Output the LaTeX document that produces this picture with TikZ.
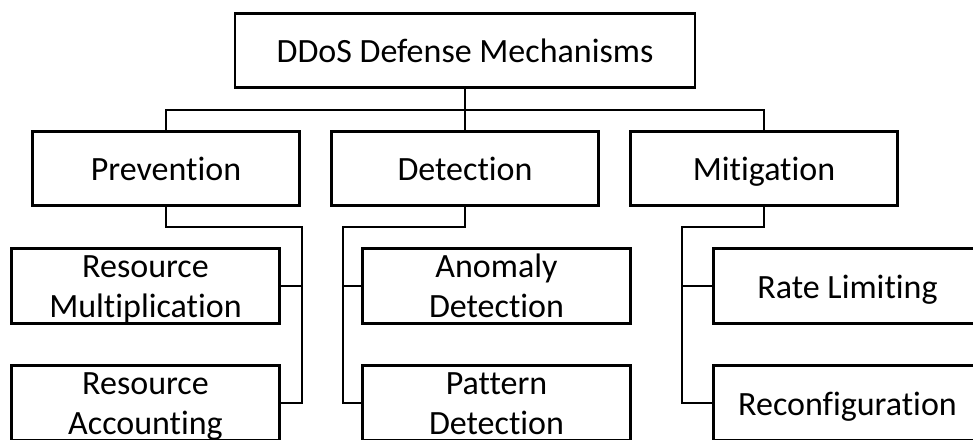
\documentclass[tikz,border=0pt]{standalone}
\usepackage{fontspec}
\setmainfont[Ligatures=NoCommon]{Carlito}
\usepackage{tikz}
\usetikzlibrary{calc}

\begin{document}
\begin{tikzpicture}[
  x=0.75pt, y=-0.75pt,
  box/.style={draw, line width=2.2pt, inner sep=0pt, align=center,
    minimum width=200.5pt, minimum height=56pt,
    font=\fontsize{25.5}{29.5}\selectfont,
    text height=23pt, text depth=5pt},
  twoline/.style={box, text height=50pt, text depth=3.5pt},
  link/.style={line width=1.5pt}
]
  \useasboundingbox (0,0) rectangle (973,439);
  \clip (0,0) rectangle (973,439);

  \node[box, minimum width=345pt] (root) at (465,50.5) {DDoS Defense Mechanisms};
  \node[box] (prev) at (166,168.5) {Prevention};
  \node[box] (det)  at (465,168.5) {Detection};
  \node[box] (mit)  at (764,168.5) {Mitigation};

  \node[twoline] (resmul) at (145.5,286) {Resource\\Multiplication};
  \node[twoline] (resacc) at (145.5,403) {Resource\\Accounting};
  \node[twoline] (anom)   at (496.5,286) {Anomaly\\Detection};
  \node[twoline] (patt)   at (496.5,403) {Pattern\\Detection};
  \node[box] (rate)   at (847.5,286) {Rate Limiting};
  \node[box] (reconf) at (847.5,403) {Reconfiguration};

  % joints of the elbow lines
  \coordinate (bus)     at (465,110);
  \coordinate (prevbus) at (302,227);
  \coordinate (detbus)  at (343,227);
  \coordinate (mitbus)  at (682,227);

  % top level
  \draw[link] (root.south) -- (bus);
  \draw[link] (bus) -| (prev.north);
  \draw[link] (bus) -- (det.north);
  \draw[link] (bus) -| (mit.north);
  % second level
  \draw[link] (prev.south) |- (prevbus) |- (resacc.east);
  \draw[link] (resmul.east) -- (resmul.east -| prevbus);
  \draw[link] (det.south) |- (detbus) |- (patt.west);
  \draw[link] (anom.west) -- (anom.west -| detbus);
  \draw[link] (mit.south) |- (mitbus) |- (reconf.west);
  \draw[link] (rate.west) -- (rate.west -| mitbus);
\end{tikzpicture}
\end{document}
